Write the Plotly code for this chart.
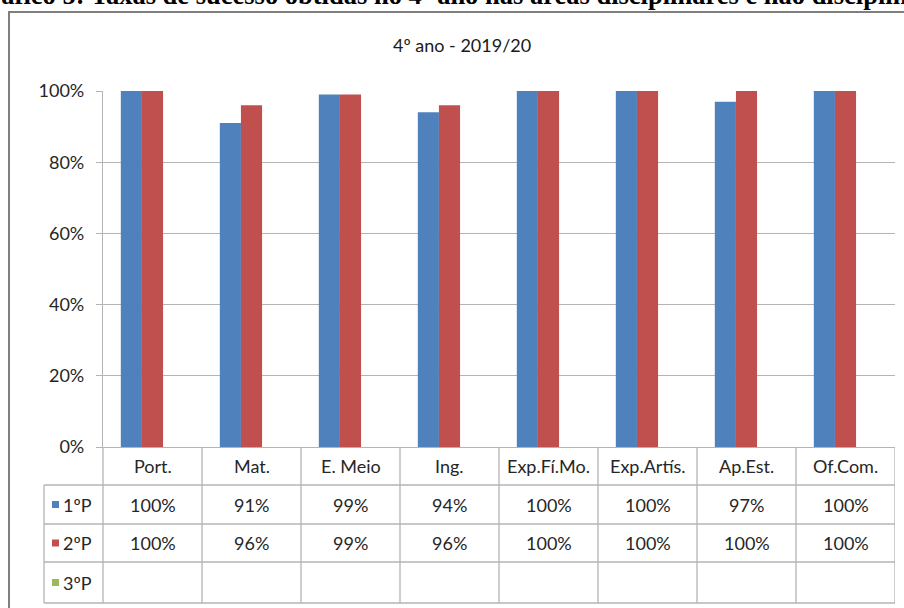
import plotly.graph_objects as go

# ---- data -------------------------------------------------------------
categories = ["Port.", "Mat.", "E. Meio", "Ing.", "Exp.Fí.Mo.", "Exp.Artís.", "Ap.Est.", "Of.Com."]
periods = ["1ºP", "2ºP", "3ºP"]
p1_values = [100, 91, 99, 94, 100, 100, 97, 100]
p2_values = [100, 96, 99, 96, 100, 100, 100, 100]
p3_values = [None, None, None, None, None, None, None, None]
y_ticks = [0, 20, 40, 60, 80, 100]
y_tick_labels = [f"{t}%" for t in y_ticks]

series_values = [p1_values, p2_values, p3_values]
colors = ["#4f81bd", "#c0504d", "#9bbb59"]

# ---- page geometry (pixels) --------------------------------------------
W, H = 904, 608
ML, MR, MT, MB = 103, 9, 91, 161
PW, PH = W - ML - MR, H - MT - MB


def px(x):
    return (x - ML) / PW


def py(y):
    return (H - MB - y) / PH


FONT = "Lato"
TXT = "#262626"
GRID = "#b4b4b4"

fig = go.Figure()
for name, vals, col in zip(periods, series_values, colors):
    fig.add_trace(go.Bar(
        x=list(range(len(categories))), y=vals, name=name,
        marker=dict(color=col, line=dict(width=0)),
        showlegend=False,
    ))

shapes = []
annotations = []

# outer chart frame
shapes.append(dict(type="rect", xref="paper", yref="paper",
                   x0=px(9), x1=px(925), y0=py(12), y1=py(640),
                   line=dict(color="#7f7f7f", width=2), layer="below"))

# data table grid: horizontal rules
row_lines = [485, 524, 562, 603]
for yl in row_lines:
    shapes.append(dict(type="line", xref="paper", yref="paper",
                       x0=px(44), x1=1, y0=py(yl), y1=py(yl),
                       line=dict(color=GRID, width=1.3)))
# vertical rules
shapes.append(dict(type="line", xref="paper", yref="paper",
                   x0=px(44), x1=px(44), y0=py(485), y1=py(603),
                   line=dict(color=GRID, width=1.3)))
shapes.append(dict(type="line", xref="paper", yref="paper",
                   x0=0, x1=0, y0=py(447), y1=py(603),
                   line=dict(color=GRID, width=1.3)))
for k in range(len(categories)):
    shapes.append(dict(type="line", xref="x", yref="paper",
                       x0=k + 0.5, x1=k + 0.5, y0=py(447), y1=py(603),
                       line=dict(color=GRID, width=1.3)))

# category header row
header_y = py((447 + 485) / 2)
for i, c in enumerate(categories):
    annotations.append(dict(x=i, y=header_y, xref="x", yref="paper", text=c,
                            showarrow=False, xanchor="center", yanchor="middle",
                            font=dict(family=FONT, size=18, color=TXT)))

# value rows with legend keys
row_bounds = [(485, 524), (524, 562), (562, 603)]
for (y0, y1), name, vals, col in zip(row_bounds, periods, series_values, colors):
    yc = py((y0 + y1) / 2)
    shapes.append(dict(type="rect", xref="paper", yref="paper",
                       x0=px(52), x1=px(59), y0=yc - 3.5 / PH, y1=yc + 3.5 / PH,
                       fillcolor=col, line=dict(width=0)))
    annotations.append(dict(x=px(61), y=yc, xref="paper", yref="paper", text=name,
                            showarrow=False, xanchor="left", yanchor="middle",
                            font=dict(family=FONT, size=18, color=TXT)))
    for i, v in enumerate(vals):
        if v is None:
            continue
        annotations.append(dict(x=i, y=yc, xref="x", yref="paper", text=f"{v}%",
                                showarrow=False, xanchor="center", yanchor="middle",
                                font=dict(family=FONT, size=18, color=TXT)))

# chart title
annotations.append(dict(x=px(462), y=py(45), xref="paper", yref="paper",
                        text="4º ano - 2019/20", showarrow=False,
                        xanchor="center", yanchor="middle",
                        font=dict(family=FONT, size=18, color="#1a1a1a")))

# document caption above the chart (runs past the page edges)
annotations.append(dict(x=px(461), y=py(-5), xref="paper", yref="paper",
                        text="<b>Gráfico 5: Taxas de sucesso obtidas no 4º ano nas áreas disciplinares e não disciplinares</b>",
                        showarrow=False, xanchor="center", yanchor="middle",
                        font=dict(family="Liberation Serif", size=26.5, color="#000000")))

fig.update_layout(
    width=W, height=H,
    margin=dict(l=ML, r=MR, t=MT, b=MB, pad=0),
    paper_bgcolor="white", plot_bgcolor="white",
    barmode="group", bargap=0.36, bargroupgap=0,
    shapes=shapes, annotations=annotations,
    font=dict(family=FONT, color=TXT),
)
fig.update_xaxes(range=[-0.5, len(categories) - 0.5], showticklabels=False,
                 showgrid=False, zeroline=False, showline=True,
                 linecolor=GRID, linewidth=1.3, ticks="")
fig.update_yaxes(range=[0, 100], tickmode="array", tickvals=y_ticks,
                 ticktext=y_tick_labels,
                 showgrid=True, gridcolor=GRID, gridwidth=1.3, zeroline=False,
                 showline=True, linecolor=GRID, linewidth=1.3,
                 ticks="outside", ticklen=6, tickcolor=GRID, tickwidth=1.3,
                 ticklabelstandoff=8,
                 tickfont=dict(family=FONT, size=18, color=TXT))

fig.write_html("out.html")
